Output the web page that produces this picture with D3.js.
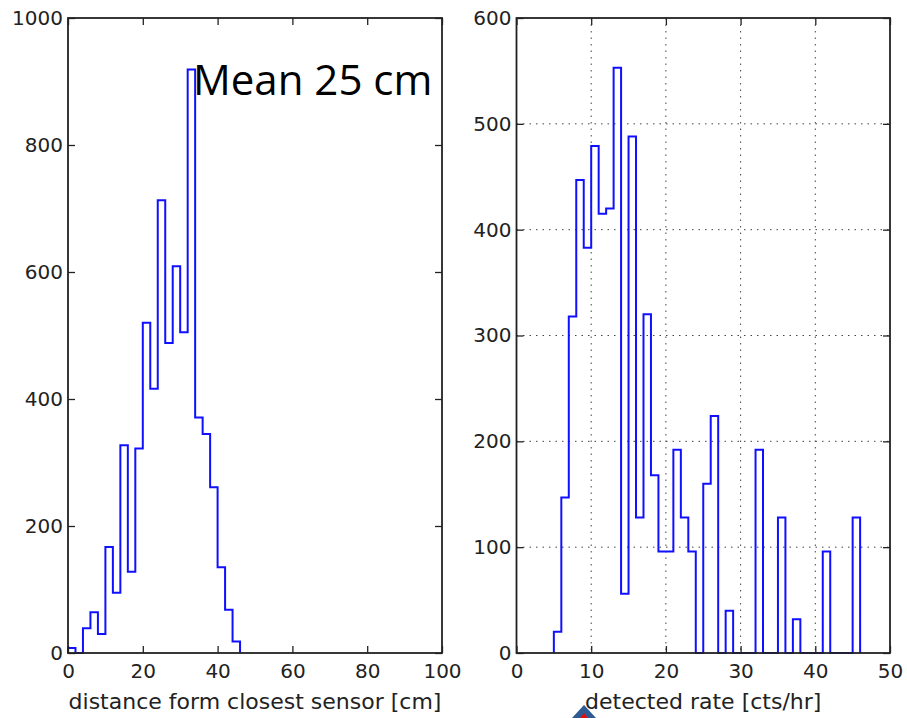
<!DOCTYPE html>
<html>
<head>
<meta charset="utf-8">
<script src="https://cdn.jsdelivr.net/npm/d3@7"></script>
<style>
  body { margin: 0; background: #fff; }
  svg { display: block; }
  .tick text { font-family: "DejaVu Sans", sans-serif; font-size: 20px; fill: #222; }
  .xlabel { font-family: "DejaVu Sans", sans-serif; font-size: 22px; fill: #222; }
</style>
</head>
<body>
<svg id="chart" width="907" height="718"></svg>
<script>
// left histogram: distance from closest sensor, bins of 2 cm starting at 0
var distBinStart = 0;
var distBinWidth = 2;
var distCounts = [8, 0, 39, 64, 30, 167, 95, 327, 128, 322, 520, 416, 713, 488, 609, 505, 919, 371, 345, 261, 135, 68, 18];
var distTicksX = [0, 20, 40, 60, 80, 100];
var distTicksY = [0, 200, 400, 600, 800, 1000];

// right histogram: detected rate, bins of 1 cts/hr starting at 5
var rateBinStart = 5;
var rateBinWidth = 1;
var rateCounts = [20, 147, 318, 447, 383, 479, 415, 420, 553, 56,
                  488, 128, 320, 168, 96, 96, 192, 128, 96, 0,
                  160, 224, 0, 40, 0, 0, 0, 192, 0, 0,
                  128, 0, 32, 0, 0, 0, 96, 0, 0, 0, 128];
var rateTicksX = [0, 10, 20, 30, 40, 50];
var rateTicksY = [0, 100, 200, 300, 400, 500, 600];

var svg = d3.select("#chart");

function drawPanel(opts) {
  var g = svg.append("g").attr("transform", "translate(" + opts.left + "," + opts.top + ")");
  var w = opts.width, h = opts.height;

  var x = d3.scaleLinear().domain(opts.xDomain).range([0, w]);
  var y = d3.scaleLinear().domain(opts.yDomain).range([h, 0]);

  if (opts.grid) {
    g.append("g").selectAll("line")
      .data(opts.xTicks.slice(1, -1))
      .enter().append("line")
      .attr("x1", function(d) { return x(d); })
      .attr("x2", function(d) { return x(d); })
      .attr("y1", 0).attr("y2", h)
      .style("stroke", "#444").style("stroke-width", 1)
      .style("stroke-dasharray", "1.5,5");
    g.append("g").selectAll("line")
      .data(opts.yTicks.slice(1, -1))
      .enter().append("line")
      .attr("x1", 0).attr("x2", w)
      .attr("y1", function(d) { return y(d); })
      .attr("y2", function(d) { return y(d); })
      .style("stroke", "#444").style("stroke-width", 1)
      .style("stroke-dasharray", "1.5,5");
  }

  // step outline, like histtype='step'
  var pts = [[opts.binStart, 0]];
  opts.counts.forEach(function(c, i) {
    pts.push([opts.binStart + i * opts.binWidth, c]);
  });
  var n = opts.counts.length;
  pts.push([opts.binStart + n * opts.binWidth, opts.counts[n - 1]]);
  pts.push([opts.binStart + n * opts.binWidth, 0]);

  var line = d3.line()
    .x(function(d) { return x(d[0]); })
    .y(function(d) { return y(d[1]); })
    .curve(d3.curveStepAfter);

  g.append("path")
    .datum(pts)
    .attr("d", line)
    .style("fill", "none")
    .style("stroke", "#1010ff")
    .style("stroke-width", 2)
    .style("stroke-linejoin", "miter");

  // axes with inward ticks on all four sides
  var fmt = d3.format("d");
  var ax;
  ax = g.append("g").attr("transform", "translate(0," + h + ")")
    .call(d3.axisBottom(x).tickValues(opts.xTicks).tickFormat(fmt).tickSizeInner(-7).tickSizeOuter(0).tickPadding(11));
  ax.select(".domain").remove();
  ax = g.append("g")
    .call(d3.axisLeft(y).tickValues(opts.yTicks).tickFormat(fmt).tickSizeInner(-7).tickSizeOuter(0).tickPadding(5));
  ax.select(".domain").remove();
  ax = g.append("g")
    .call(d3.axisTop(x).tickValues(opts.xTicks).tickSizeInner(-7).tickSizeOuter(0).tickFormat(""));
  ax.select(".domain").remove();
  ax = g.append("g").attr("transform", "translate(" + w + ",0)")
    .call(d3.axisRight(y).tickValues(opts.yTicks).tickSizeInner(-7).tickSizeOuter(0).tickFormat(""));
  ax.select(".domain").remove();
  g.selectAll(".tick line").style("stroke", "#222").style("stroke-width", 1.3);

  g.append("rect")
    .attr("x", 0).attr("y", 0)
    .attr("width", w).attr("height", h)
    .style("fill", "none")
    .style("stroke", "#222")
    .style("stroke-width", 1.8);

  g.append("text")
    .attr("class", "xlabel")
    .attr("x", w / 2)
    .attr("y", h + 56)
    .attr("text-anchor", "middle")
    .text(opts.xlabel);

  return g;
}

drawPanel({
  left: 68, top: 18, width: 374, height: 635,
  xDomain: [0, 100], yDomain: [0, 1000],
  xTicks: distTicksX, yTicks: distTicksY,
  binStart: distBinStart, binWidth: distBinWidth, counts: distCounts,
  grid: false,
  xlabel: "distance form closest sensor [cm]"
});

drawPanel({
  left: 516.5, top: 18, width: 373.5, height: 635,
  xDomain: [0, 50], yDomain: [0, 600],
  xTicks: rateTicksX, yTicks: rateTicksY,
  binStart: rateBinStart, binWidth: rateBinWidth, counts: rateCounts,
  grid: true,
  xlabel: "detected rate [cts/hr]"
});

svg.append("text")
  .attr("x", 193)
  .attr("y", 95)
  .style("font-family", "'Open Sans', sans-serif")
  .style("font-size", "42px")
  .style("fill", "#000")
  .text("Mean 25 cm");

// cut-off arrow marker at the bottom edge
svg.append("path")
  .attr("d", "M584,705 L572,718 L596,718 Z")
  .style("fill", "#2f5b93");
svg.append("path")
  .attr("d", "M584,713 L580,718 L588,718 Z")
  .style("fill", "#e01010");
</script>
</body>
</html>
